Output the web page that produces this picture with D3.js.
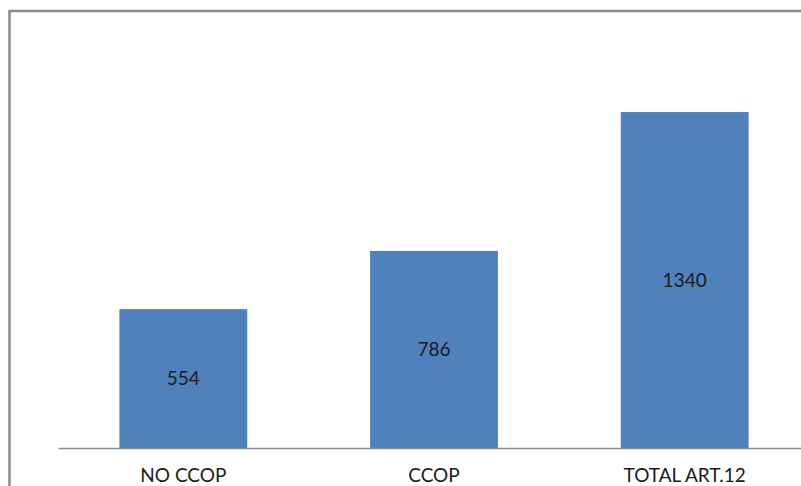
<!DOCTYPE html>
<html>
<head>
<meta charset="utf-8">
<script src="https://d3js.org/d3.v7.min.js"></script>
<style>
  body { margin: 0; background: #fff; }
  svg text { font-family: Lato, "Open Sans", sans-serif; fill: #1a1a1a; }
</style>
</head>
<body>
<div id="chart"></div>
<script>
// data
const categories = ["NO CCOP", "CCOP", "TOTAL ART.12"];
const values = [554, 786, 1340];

const W = 801, H = 486;
const baseY = 448;

const svg = d3.select("#chart").append("svg")
    .attr("width", W)
    .attr("height", H);

// chart area frame (runs off the right and bottom edges)
svg.append("rect")
    .attr("x", 9.5).attr("y", 11)
    .attr("width", 900).attr("height", 600)
    .attr("fill", "none")
    .attr("stroke", "#8a8a8a")
    .attr("stroke-width", 2.5);

const x = d3.scaleBand()
    .domain(categories)
    .range([58, 810])
    .paddingInner(0.49)
    .paddingOuter(0.245);

const y = d3.scaleLinear()
    .domain([0, 1600])
    .range([baseY, baseY - 1600 * 0.2507]);

const data = categories.map((c, i) => ({ cat: c, val: values[i] }));

svg.append("g").selectAll("rect")
    .data(data)
    .enter().append("rect")
    .attr("x", d => x(d.cat))
    .attr("y", d => y(d.val))
    .attr("width", x.bandwidth())
    .attr("height", d => y(0) - y(d.val))
    .attr("fill", "#4f81bd");

// value labels in the middle of each bar
svg.append("g").selectAll("text")
    .data(data)
    .enter().append("text")
    .attr("x", d => x(d.cat) + x.bandwidth() / 2)
    .attr("y", d => (y(d.val) + y(0)) / 2)
    .attr("dy", "0.36em")
    .attr("text-anchor", "middle")
    .style("font-size", "19px")
    .text(d => d.val);

// category axis
const xAxis = svg.append("g")
    .attr("transform", "translate(0," + baseY + ")")
    .call(d3.axisBottom(x).tickSize(0).tickPadding(21));
xAxis.select(".domain").attr("stroke", "#8c8c8c").attr("stroke-width", 1.5);
xAxis.selectAll("text")
    .style("font-size", "19px")
    .style("font-family", "Lato, 'Open Sans', sans-serif")
    .attr("fill", "#1a1a1a");
</script>
</body>
</html>
